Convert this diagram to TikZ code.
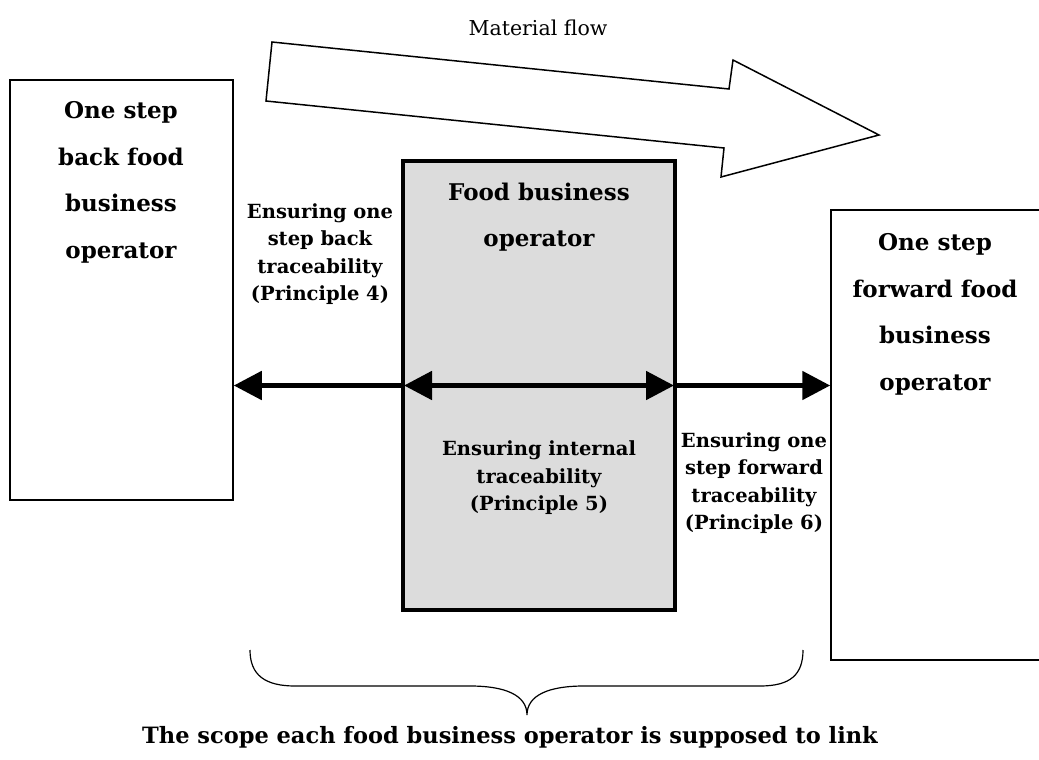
\documentclass[tikz,border=0pt]{standalone}
\usepackage{fontspec}
\setmainfont{DejaVu Serif}
\usetikzlibrary{arrows.meta,positioning,calc}
\definecolor{boxgray}{RGB}{220,220,220}

\begin{document}
\begin{tikzpicture}[x=1pt,y=-1pt,
    op/.style={draw,line width=1.5pt,inner sep=0pt},
    big/.style={font=\bfseries\fontsize{23}{46.5}\selectfont,align=center,anchor=north},
    small/.style={font=\bfseries\fontsize{19.5}{27.5}\selectfont,align=center},
    trace/.style={line width=5pt,-{Triangle[length=28pt,width=28pt]}}]
  \useasboundingbox (0,0) rectangle (1039,760);

  % material flow arrow
  \node[font=\fontsize{20.5}{24}\selectfont] (flow) at (538,28) {Material flow};
  \draw[line width=1.5pt,line join=miter] (272,42) -- (729,89) -- (733,60) -- (879,135)
        -- (721,177) -- (724,148) -- (266,101) -- cycle;

  % operators
  \node[op,minimum width=223pt,minimum height=420pt] (back) at (121.5,290) {};
  \node[op,fill=boxgray,line width=4pt,minimum width=272pt,minimum height=449pt] (fbo) at (539,385.5) {};
  \node[op,minimum width=220pt,minimum height=450pt] (fwd) at (941,435) {};

  \node[big] (backtxt) at (121,98) {One step\\back food\\business\\operator};
  \node[big] (fbotxt) at (539,179) {Food business\\operator};
  \node[big] (fwdtxt) at (935,230) {One step\\forward food\\business\\operator};

  % traceability arrows
  \draw[trace] (fbo.west) -- (back.east |- fbo.west);
  \draw[trace,{Triangle[length=28pt,width=28pt]}-{Triangle[length=28pt,width=28pt]}] ($(fbo.west)+(3,0)$) -- ($(fbo.east)+(-3,0)$);
  \draw[trace] (fbo.east) -- (fwd.west |- fbo.east);

  \node[small] (p4) at (320,254) {Ensuring one\\step back\\traceability\\(Principle 4)};
  \node[small] (p5) at (539,478) {Ensuring internal\\traceability\\(Principle 5)};
  \node[small] (p6) at (754,483) {Ensuring one\\step forward\\traceability\\(Principle 6)};

  % scope brace
  \coordinate (bl) at (250,650);
  \coordinate (br) at (803,650);
  \coordinate (bt) at (527,715);
  \draw[line width=1.2pt] (bl) .. controls (250,675) and (265,686) .. (295,686) -- (470,686)
        .. controls (505,686) and (527,695) .. (bt) .. controls (527,695) and (549,686) .. (584,686)
        -- (760,686) .. controls (790,686) and (803,675) .. (br);
  \node[font=\bfseries\fontsize{22.5}{26}\selectfont] (scope) at (510,737) {The scope each food business operator is supposed to link};
\end{tikzpicture}
\end{document}
